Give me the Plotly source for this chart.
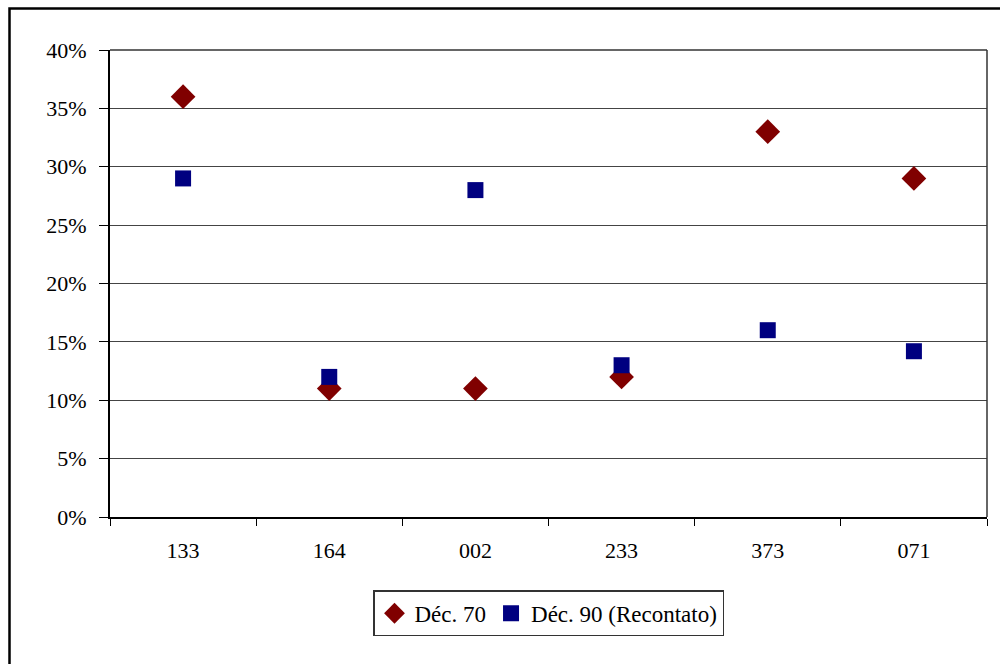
import plotly.graph_objects as go

categories = ["133", "164", "002", "233", "373", "071"]
dec70 = [0.36, 0.11, 0.11, 0.12, 0.33, 0.29]
dec90 = [0.29, 0.12, 0.28, 0.13, 0.16, 0.142]
y_ticks = [0, 0.05, 0.10, 0.15, 0.20, 0.25, 0.30, 0.35, 0.40]

font_family = "Liberation Serif"

fig = go.Figure()
fig.add_trace(go.Scatter(
    x=categories, y=dec70, mode="markers", name="Déc. 70",
    marker=dict(symbol="diamond", size=19, color="#800000"),
))
fig.add_trace(go.Scatter(
    x=categories, y=dec90, mode="markers", name="Déc. 90 (Recontato)",
    marker=dict(symbol="square", size=16, color="#000080"),
))

# Outer chart frame (extends past the right/bottom edge of the page)
plot_w = 877
plot_h = 467
fig.add_shape(
    type="rect", xref="paper", yref="paper",
    x0=(9.5 - 110) / plot_w, x1=(1030 - 110) / plot_w,
    y0=-(700 - 517) / plot_h, y1=1 + (50 - 8.5) / plot_h,
    line=dict(color="black", width=2.5), layer="below",
)

fig.update_layout(
    width=1000, height=664,
    margin=dict(l=110, r=13, t=50, b=147),
    paper_bgcolor="white", plot_bgcolor="white",
    font=dict(family=font_family, size=22, color="black"),
    showlegend=True,
    legend=dict(
        orientation="h", x=0.5, xanchor="center", y=-0.157, yanchor="top",
        bordercolor="#333333", borderwidth=1.5, bgcolor="white",
        font=dict(family=font_family, size=23), itemwidth=30, tracegroupgap=0,
    ),
    xaxis=dict(
        type="category", categoryorder="array", categoryarray=categories,
        range=[-0.5, 5.5], tickson="boundaries", ticks="outside",
        ticklen=7, tickcolor="black", tickwidth=1, ticklabelstandoff=13,
        showline=True, linecolor="black", linewidth=2, mirror=False,
        showgrid=False, zeroline=False, fixedrange=True,
    ),
    yaxis=dict(
        range=[0, 0.4], tickvals=y_ticks, tickformat=".0%",
        ticks="outside", ticklen=9, tickcolor="black", tickwidth=1,
        ticklabelstandoff=8,
        showline=True, linecolor="black", linewidth=2,
        showgrid=True, gridcolor="#444444", gridwidth=1,
        zeroline=False, fixedrange=True,
    ),
)

# Thin border on the top and right sides of the plot area
fig.add_shape(type="line", xref="paper", yref="paper", x0=0, x1=1, y0=1, y1=1,
              line=dict(color="#333333", width=1.5))
fig.add_shape(type="line", xref="paper", yref="paper", x0=1, x1=1, y0=0, y1=1,
              line=dict(color="#333333", width=1.5))

fig.write_html("out.html")
